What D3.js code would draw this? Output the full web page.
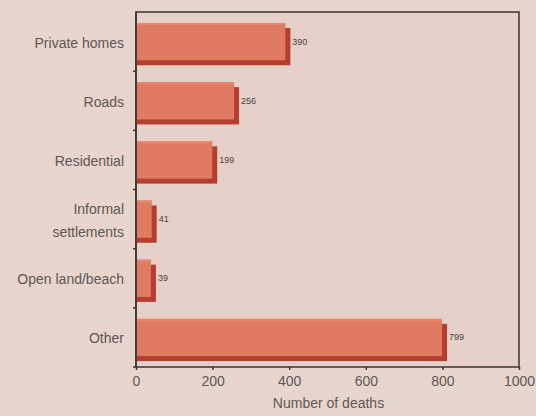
<!DOCTYPE html>
<html>
<head>
<meta charset="utf-8">
<script src="https://cdn.jsdelivr.net/npm/d3@7"></script>
<style>
  html, body { margin: 0; padding: 0; background: #e8d5cd; }
  svg { display: block; }
  text { font-family: "Liberation Sans", Arial, sans-serif; }
</style>
</head>
<body>
<svg id="chart" width="536" height="416"></svg>
<script>
// Deaths by place of occurrence
const categories = ["Private homes", "Roads", "Residential", "Informal settlements", "Open land/beach", "Other"];
const categoryLines = [["Private homes"], ["Roads"], ["Residential"], ["Informal", "settlements"], ["Open land/beach"], ["Other"]];
const deaths = [390, 256, 199, 41, 39, 799];
const xTicks = [0, 200, 400, 600, 800, 1000];
const xTitle = "Number of deaths";

const svg = d3.select("#chart");
const plotLeft = 136, plotRight = 519, plotTop = 12, plotBottom = 367;

const x = d3.scaleLinear().domain([0, 1000]).range([plotLeft, plotRight]);
const y = d3.scaleBand().domain(categories).range([plotTop, plotBottom]).padding(0);

const frontColor = "#e07b61";
const topColor = "#e68670";
const shadowColor = "#b63e30";
const textColor = "#5e5856";
const depth = 5;

// plot frame
svg.append("rect")
  .attr("x", plotLeft).attr("y", plotTop)
  .attr("width", plotRight - plotLeft).attr("height", plotBottom - plotTop)
  .attr("fill", "#e7d0ca")
  .attr("stroke", "#3a3530").attr("stroke-width", 1.5);

const bw = y.bandwidth();
const barH = bw * 0.63;
const rows = svg.append("g").selectAll("g.bar").data(categories).join("g").attr("class", "bar");

// extruded shadow (right and bottom faces)
rows.append("rect")
  .attr("x", x(0) + 1)
  .attr("y", d => y(d) + 11 + depth)
  .attr("width", (d, i) => x(deaths[i]) - x(0) - 1 + depth)
  .attr("height", barH)
  .attr("fill", shadowColor);

// front face
rows.append("rect")
  .attr("x", x(0) + 1)
  .attr("y", d => y(d) + 11)
  .attr("width", (d, i) => x(deaths[i]) - x(0) - 1)
  .attr("height", barH)
  .attr("fill", frontColor);

// light top edge
rows.append("rect")
  .attr("x", x(0) + 1)
  .attr("y", d => y(d) + 11)
  .attr("width", (d, i) => x(deaths[i]) - x(0) - 1)
  .attr("height", 2)
  .attr("fill", topColor);

// value labels
rows.append("text")
  .attr("x", (d, i) => x(deaths[i]) + depth + 2)
  .attr("y", d => y(d) + 11 + barH / 2 + 3)
  .attr("font-size", 9)
  .attr("fill", "#4a4440")
  .text((d, i) => deaths[i]);

// redraw left axis line over the bars
svg.append("line")
  .attr("x1", plotLeft).attr("x2", plotLeft).attr("y1", plotTop).attr("y2", plotBottom)
  .attr("stroke", "#3a3530").attr("stroke-width", 1.5);

// x axis
const xAxis = d3.axisBottom(x).tickValues(xTicks).tickSize(3).tickPadding(6).tickFormat(d3.format("d"));
const xg = svg.append("g").attr("transform", `translate(0,${plotBottom})`).call(xAxis);
xg.select(".domain").remove();
xg.selectAll(".tick line").attr("stroke", "#3a3530").attr("stroke-width", 1.5);
xg.selectAll(".tick text")
  .attr("font-size", 14).attr("fill", textColor)
  .attr("font-family", "Liberation Sans, Arial, sans-serif");

// category ticks at band boundaries
const boundaries = categories.slice(1).map(c => y(c)).concat([plotBottom]);
svg.selectAll("line.ytick").data(boundaries).join("line")
  .attr("class", "ytick")
  .attr("x1", plotLeft - 3).attr("x2", plotLeft)
  .attr("y1", d => d).attr("y2", d => d)
  .attr("stroke", "#3a3530").attr("stroke-width", 1.5);

// category labels
const labels = svg.selectAll("text.cat").data(categories).join("text")
  .attr("class", "cat")
  .attr("text-anchor", "end")
  .attr("font-size", 14)
  .attr("fill", textColor);
labels.each(function(d, i) {
  const lines = categoryLines[i];
  const lh = 23;
  const cy = y(d) + bw / 2 + 1;
  lines.forEach((t, j) => {
    d3.select(this).append("tspan")
      .attr("x", plotLeft - 12)
      .attr("y", cy + 5 + (j - (lines.length - 1) / 2) * lh)
      .text(t);
  });
});

// axis title
svg.append("text")
  .attr("x", (plotLeft + plotRight) / 2 + 1)
  .attr("y", 408)
  .attr("text-anchor", "middle")
  .attr("font-size", 14)
  .attr("fill", textColor)
  .text(xTitle);
</script>
</body>
</html>
